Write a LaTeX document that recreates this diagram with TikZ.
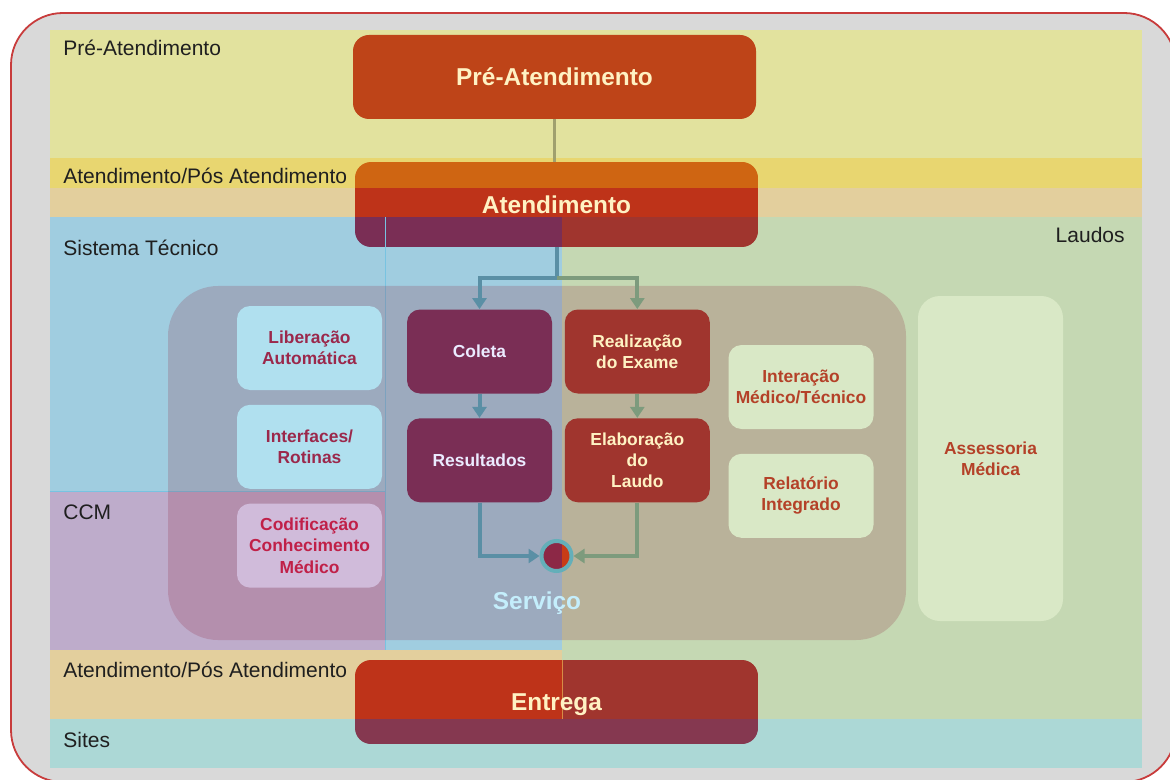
\documentclass[tikz,border=0pt]{standalone}
\usepackage{fontspec}
\setmainfont{Liberation Sans}
\usetikzlibrary{positioning,arrows.meta}

\definecolor{framegray}{RGB}{217,217,217}
\definecolor{framered}{RGB}{200,60,60}
\definecolor{preband}{RGB}{226,226,158}
\definecolor{atdyellow}{RGB}{232,214,112}
\definecolor{atdtan}{RGB}{227,207,157}
\definecolor{techblue}{RGB}{160,205,224}
\definecolor{laudgreen}{RGB}{197,216,179}
\definecolor{ccmpurple}{RGB}{190,172,203}
\definecolor{sitesteal}{RGB}{172,216,214}
\definecolor{servshade}{RGB}{140,30,55}
\definecolor{preorange}{RGB}{190,68,24}
\definecolor{boxorange}{RGB}{207,101,18}
\definecolor{boxred}{RGB}{190,51,25}
\definecolor{boxplum}{RGB}{122,46,85}
\definecolor{boxbrick}{RGB}{160,53,46}
\definecolor{boxwine}{RGB}{133,56,80}
\definecolor{cream}{RGB}{255,242,195}
\definecolor{skyfill}{RGB}{176,224,239}
\definecolor{skytext}{RGB}{155,40,75}
\definecolor{lilacfill}{RGB}{208,187,218}
\definecolor{lilactext}{RGB}{192,32,72}
\definecolor{mintfill}{RGB}{217,232,198}
\definecolor{minttext}{RGB}{180,65,40}
\definecolor{flowblue}{RGB}{90,143,165}
\definecolor{flowgreen}{RGB}{125,155,125}
\definecolor{olive}{RGB}{160,160,110}
\definecolor{edgeblue}{RGB}{120,195,225}
\definecolor{seamtan}{RGB}{215,140,70}
\definecolor{joinplum}{RGB}{140,40,70}
\definecolor{joinred}{RGB}{200,60,22}
\definecolor{jointeal}{RGB}{100,175,185}
\definecolor{servtext}{RGB}{196,238,252}

\begin{document}
\begin{tikzpicture}[
    x=0.5pt, y=-0.5pt,
    every node/.style={font=\fontsize{10.5}{12.6}\selectfont},
    frame/.style={fill=framegray, draw=framered, line width=0.9pt,
                  rounded corners=26pt},
    lane/.style ={anchor=base west, inner sep=0pt, text=black!88},
    edge/.style ={edgeblue, line width=0.5pt},
    big/.style  ={rounded corners=8pt, minimum width=201.5pt,
                  minimum height=42pt, inner sep=0pt, text=cream,
                  text height=8.8pt, text depth=0pt,
                  font=\bfseries\fontsize{12.2}{14}\selectfont},
    box/.style  ={rounded corners=6.5pt, minimum width=72.5pt,
                  minimum height=42pt, inner sep=1pt, align=center,
                  font=\bfseries\fontsize{8.7}{10.6}\selectfont},
    plum/.style ={box, fill=boxplum,  text=white!92!blue},
    brick/.style={box, fill=boxbrick, text=cream},
    sky/.style  ={box, fill=skyfill,  text=skytext},
    lilac/.style={box, fill=lilacfill, text=lilactext},
    mint/.style ={box, fill=mintfill, text=minttext},
    mergedot/.style={circle, minimum size=15pt, inner sep=0pt, fill=joinplum,
                  draw=jointeal, line width=2pt},
    link/.style ={olive, line width=1.5pt},
    flow/.style ={line width=2pt, -{Triangle[length=5.5pt, width=7pt]}}
  ]
  \useasboundingbox (0,0) rectangle (1170,780);
  \draw[frame] (11,13) rectangle (1176,782);

  % lanes
  \fill[preband]    (50,30)  rectangle (1142,158);
  \fill[atdyellow]  (50,158) rectangle (1142,188);
  \fill[atdtan]     (50,188) rectangle (1142,217);
  \fill[techblue]   (50,217) rectangle (562,650);
  \fill[laudgreen]  (562,217) rectangle (1142,719);
  \fill[ccmpurple]  (50,491) rectangle (385,650);
  \fill[atdtan]     (50,650) rectangle (562,719);
  \fill[sitesteal]  (50,719) rectangle (1142,768);
  \draw[edge] (385,217) -- (385,650);
  \draw[edge] (50,491) -- (385,491);

  % servico area
  \fill[servshade, fill opacity=0.2, rounded corners=25pt]
    (168,286) rectangle (906,640);

  \node[lane] (lpre) at (63,56)  {Pré-Atendimento};
  \node[lane] (latd) at (63,184) {Atendimento/Pós Atendimento};
  \node[lane] (ltec) at (63,256) {Sistema Técnico};
  \node[lane] (lccm) at (63,519) {CCM};
  \node[lane] (lpos) at (63,677) {Atendimento/Pós Atendimento};
  \node[lane] (lsit) at (63,747) {Sites};
  \node[lane, anchor=base east] (llau) at (1125,243) {Laudos};
  \node[font=\bfseries\fontsize{12.2}{14}\selectfont, text=servtext]
    (serv) at (537,603) {Serviço};

  \node[big, fill=preorange] (pre) at (554.5,77) {Pré-Atendimento};

  \begin{scope}
    \clip[rounded corners=8pt] (355,162) rectangle (758,247);
    \fill[boxorange] (355,162) rectangle (758,188);
    \fill[boxred]    (355,188) rectangle (758,217);
    \fill[boxplum]   (355,217) rectangle (562,247);
    \fill[boxbrick]  (562,217) rectangle (758,247);
    \draw[edge] (385,217) -- (385,247);
  \end{scope}
  \node[big] (atd) at (556.5,204.5) {Atendimento};

  \node[plum] (coleta) at (479.5,351.5) {Coleta};
  \node[plum, below=12pt of coleta] (result) {Resultados};
  \node[brick, right=6pt of coleta] (realiz) {Realização\\do Exame};
  \node[brick, below=12pt of realiz] (elab) {Elaboração\\do\\Laudo};
  \node[sky] (liber) at (309.5,348) {Liberação\\Automática};
  \node[sky, below=7pt of liber] (interf) {Interfaces/\\Rotinas};
  \node[lilac, below=7pt of interf] (codif) {Codificação\\Conhecimento\\Médico};
  \node[mint] (inter) at (801,387) {Interação\\Médico/Técnico};
  \node[mint, below=12pt of inter] (relat) {Relatório\\Integrado};
  \node[mint, minimum height=162.5pt, rounded corners=11pt]
    (assess) at (990.5,458.5) {Assessoria\\Médica};

  \node[mergedot, path picture={\fill[joinred]
      ([xshift=2.75pt]path picture bounding box.north)
      rectangle (path picture bounding box.south east);}]
    (merge) at (556.5,556) {};

  \begin{scope}
    \clip[rounded corners=8pt] (355,660) rectangle (758,744);
    \fill[boxred]   (355,660) rectangle (562,719);
    \fill[boxbrick] (562,660) rectangle (758,719);
    \fill[boxwine]  (355,719) rectangle (758,744);
    \draw[seamtan, line width=0.5pt] (562,660) -- (562,719);
  \end{scope}
  \node[big] (ent) at (556.5,702) {Entrega};

  % flow
  \coordinate (fork) at (556.5,278);
  \draw[link] (pre.south) -- (pre.south |- atd.north);
  \draw[flowblue, line width=2pt] (atd.south) -- (fork);
  \draw[flow, flowblue]  (fork) -| (coleta.north);
  \draw[flow, flowgreen] (fork) -| (realiz.north);
  \draw[flow, flowblue]  (coleta) -- (result);
  \draw[flow, flowgreen] (realiz) -- (elab);
  \draw[flow, flowblue]  (result) |- (merge);
  \draw[flow, flowgreen] (elab) |- (merge);
\end{tikzpicture}
\end{document}
